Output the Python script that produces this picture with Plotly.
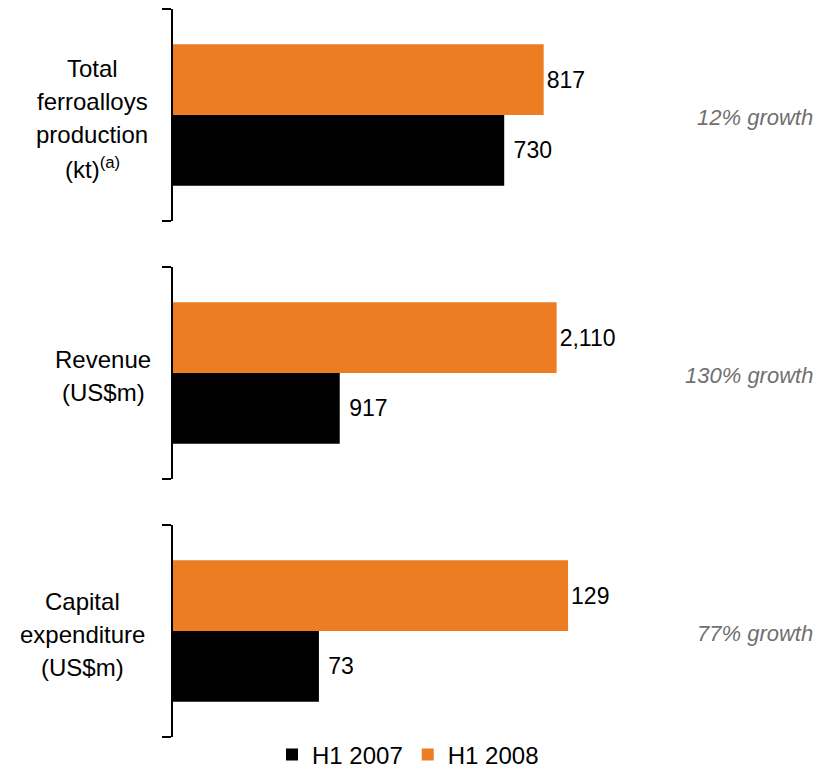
import plotly.graph_objects as go
from plotly.subplots import make_subplots

# ---- data ----
categories = [
    ["Total", "ferroalloys", "production", "(kt)<sup>(a)</sup>"],
    ["Revenue", "(US$m)"],
    ["Capital", "expenditure", "(US$m)"],
]
h1_2007 = [730, 917, 73]
h1_2008 = [817, 2110, 129]
value_labels_2007 = ["730", "917", "73"]
value_labels_2008 = ["817", "2,110", "129"]
growth_labels = ["12% growth", "130% growth", "77% growth"]
series_names = ["H1 2007", "H1 2008"]

# ---- style ----
BLACK = "#000000"
ORANGE = "#ED7D23"
FONT = "Liberation Sans, Arial, sans-serif"
x_ranges = [[0, 1415], [0, 3531], [40.2, 184.5]]
label_centers_px = [92, 103, 82]

W, H = 829, 771
L, R, T, B = 173, 14, 9, 34
plot_h = H - T - B
gap = 46

fig = make_subplots(rows=3, cols=1, vertical_spacing=gap / plot_h)

for i in range(3):
    row = i + 1
    fig.add_trace(go.Bar(
        y=[0], x=[h1_2007[i]], orientation="h", width=1,
        marker=dict(color=BLACK, line=dict(width=0)),
        name=series_names[0], legendgroup="a", showlegend=(i == 0),
        text=[" " + value_labels_2007[i]], textposition="outside",
        textfont=dict(size=23, color="black", family=FONT),
        cliponaxis=False, constraintext="none",
    ), row=row, col=1)
    fig.add_trace(go.Bar(
        y=[1], x=[h1_2008[i]], orientation="h", width=1,
        marker=dict(color=ORANGE, line=dict(width=0)),
        name=series_names[1], legendgroup="b", showlegend=(i == 0),
        text=[value_labels_2008[i]], textposition="outside",
        textfont=dict(size=23, color="black", family=FONT),
        cliponaxis=False, constraintext="none",
    ), row=row, col=1)
    fig.update_xaxes(visible=False, range=x_ranges[i], row=row, col=1)
    fig.update_yaxes(range=[-1, 2], showline=True, linecolor="black", linewidth=2,
                     ticks="outside", tickvals=[-1, 2], ticklen=9, tickwidth=2,
                     tickcolor="black", showticklabels=False, showgrid=False,
                     zeroline=False, row=row, col=1)

    yref = "y" if row == 1 else f"y{row}"
    lines = categories[i]
    n = len(lines)
    spacing = 33
    for j, line in enumerate(lines):
        off = ((n - 1) / 2 - j) * spacing
        fig.add_annotation(
            xref="paper", x=0, xshift=label_centers_px[i] - L, xanchor="center",
            yref=yref, y=0.5, yshift=off - 3, yanchor="middle",
            text=line, showarrow=False,
            font=dict(size=24, color="black", family=FONT),
        )
    fig.add_annotation(
        xref="paper", x=1, xanchor="right",
        yref=yref, y=0.5, yshift=-2, yanchor="middle",
        text=f"<i>{growth_labels[i]}</i>", showarrow=False,
        font=dict(size=22, color="#707070", family=FONT),
    )

fig.update_layout(
    width=W, height=H,
    margin=dict(l=L, r=R, t=T, b=B, autoexpand=False),
    barmode="overlay",
    plot_bgcolor="white", paper_bgcolor="white",
    font=dict(family=FONT, color="black"),
    legend=dict(orientation="h", xref="container", x=272 / W, xanchor="left",
                yref="container", y=(H - 755) / H, yanchor="middle",
                font=dict(size=24, color="black", family=FONT),
                traceorder="normal", itemclick=False, bgcolor="rgba(0,0,0,0)"),
    showlegend=True,
)

fig.write_html("out.html", config={"displayModeBar": False},
               post_script="document.body.style.margin='0';")
